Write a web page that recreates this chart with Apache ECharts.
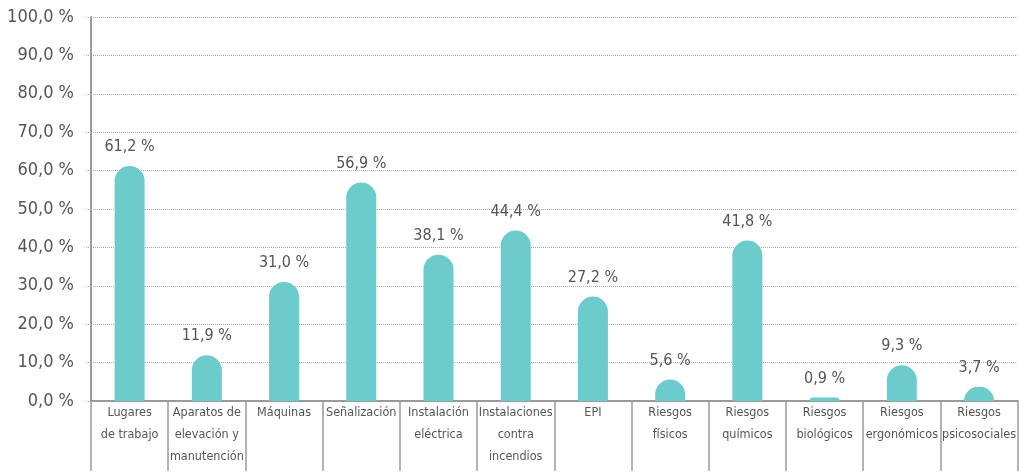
<!DOCTYPE html>
<html>
<head>
<meta charset="utf-8">
<script src="https://cdn.jsdelivr.net/npm/echarts@6/dist/echarts.min.js"></script>
<style>
html,body{margin:0;padding:0;background:#fff;}
#c{width:1019px;height:474px;}
</style>
</head>
<body>
<div id="c"></div>
<script>
const categories = ["Lugares\nde trabajo","Aparatos de\nelevación y\nmanutención","Máquinas","Señalización","Instalación\neléctrica","Instalaciones\ncontra\nincendios","EPI","Riesgos\nfísicos","Riesgos\nquímicos","Riesgos\nbiológicos","Riesgos\nergonómicos","Riesgos\npsicosociales"];
const values = [61.2, 11.9, 31.0, 56.9, 38.1, 44.4, 27.2, 5.6, 41.8, 0.9, 9.3, 3.7];
const yTicks = {min: 0, max: 100, interval: 10};

const FONT = '"DejaVu Sans Condensed", "Liberation Sans Narrow", sans-serif';
const fmt = v => v.toFixed(1).replace('.', ',') + ' %';

const chart = echarts.init(document.getElementById('c'), null, {renderer: 'canvas'});
chart.setOption({
  animation: false,
  grid: {left: 91, right: 0, top: 17, bottom: 73, containLabel: false},
  xAxis: {
    type: 'category',
    data: categories,
    boundaryGap: true,
    axisLine: {show: true, lineStyle: {color: '#9a9a9a', width: 2}},
    axisTick: {show: true, length: 70, lineStyle: {color: '#9a9a9a', width: 1.5}},
    axisLabel: {
      interval: 0, color: '#555', fontFamily: FONT, fontSize: 12.5,
      lineHeight: 22, margin: 1, verticalAlign: 'top'
    }
  },
  yAxis: {
    type: 'value',
    min: yTicks.min, max: yTicks.max, interval: yTicks.interval,
    axisLine: {show: true, lineStyle: {color: '#9a9a9a', width: 2}},
    axisTick: {show: true, length: 6, lineStyle: {color: '#aaa', type: 'dotted', width: 1}},
    splitLine: {show: true, lineStyle: {color: '#aaa', type: 'dotted', width: 1}},
    axisLabel: {color: '#555', fontFamily: FONT, fontSize: 18, margin: 17, formatter: v => fmt(v)}
  },
  series: [{
    type: 'bar',
    data: values,
    barWidth: 30,
    itemStyle: {color: '#6ccbcb', borderRadius: [15, 15, 0, 0]},
    label: {
      show: true, position: 'top', distance: 11,
      color: '#555', fontFamily: FONT, fontSize: 16,
      formatter: p => fmt(p.value)
    }
  }]
});
</script>
</body>
</html>
